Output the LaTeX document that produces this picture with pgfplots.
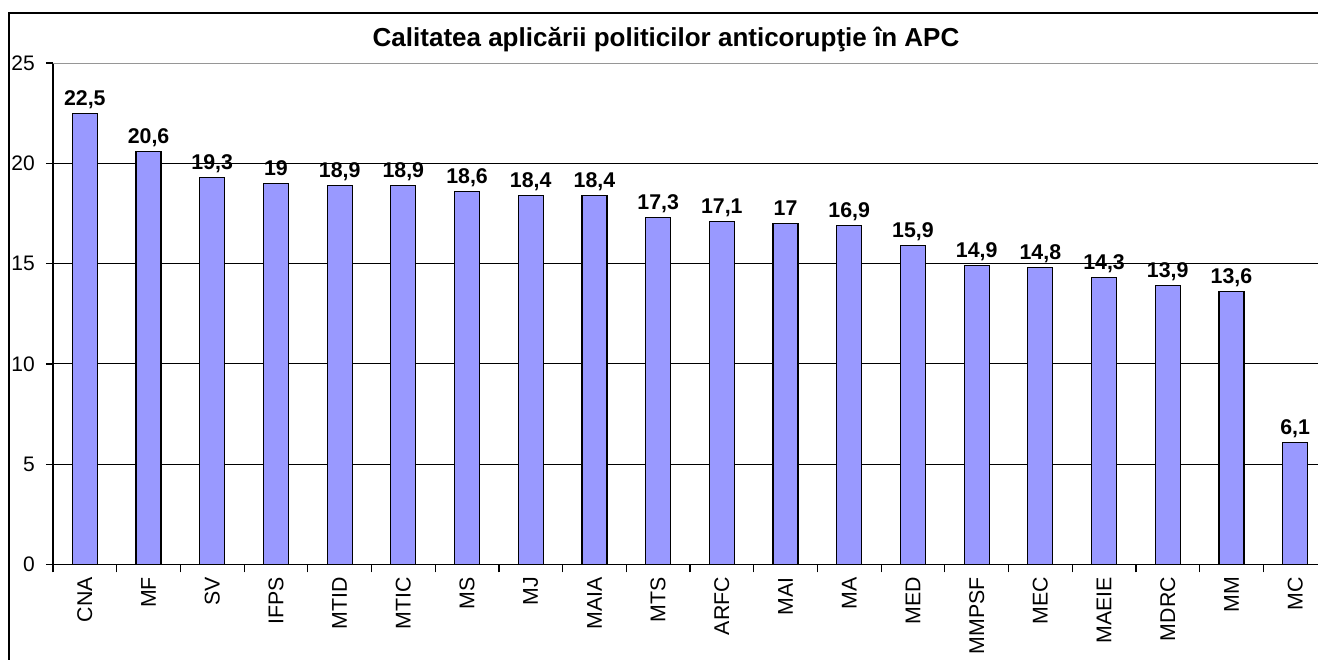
\documentclass[border=0pt]{standalone}
\usepackage{pgfplots}
\pgfplotsset{compat=1.18}
\usepackage{fontspec}
\setmainfont{Liberation Sans}
\definecolor{barblue}{RGB}{153,153,255}
\definecolor{gridgray}{RGB}{150,150,150}
\begin{document}
\begin{tikzpicture}[x=0.75pt,y=0.75pt]
\clip (-53,-95.5) rectangle (1265,564.5);
\draw[black, line width=1.5pt] (-44,551.5) rectangle (1300,-200);
\node[anchor=base, font=\bfseries\fontsize{19.5}{23}\selectfont, inner sep=0pt] at (613,517.5) {Calitatea aplicării politicilor anticorupţie în APC};
\begin{axis}[
  at={(0,0)}, anchor=south west,
  scale only axis,
  width=955.5pt, height=376.1pt,
  xmin=-0.5, xmax=19.5, ymin=0, ymax=25,
  ybar, bar width=18.75pt,
  axis x line=bottom, axis y line=left,
  axis line style={-, black, line width=1pt},
  /pgf/number format/assume math mode=true,
  ytick={0,5,...,25},
  ymajorgrids, major grid style={black, line width=0.75pt},
  tick align=outside,
  major tick length=5.25pt, minor tick length=6pt,
  tick style={black, line width=0.9pt},
  xtick={0,...,19},
  xticklabels={CNA,MF,SV,IFPS,MTID,MTIC,MS,MJ,MAIA,MTS,ARFC,MAI,MA,MED,MMPSF,MEC,MAEIE,MDRC,MM,MC},
  every major x tick/.append style={draw=none},
  minor xtick={-0.5,0.5,...,19.5},
  xticklabel style={rotate=90, anchor=east, font=\fontsize{16}{18}\selectfont, inner sep=0pt, xshift=-4pt},
  yticklabel style={font=\fontsize{15.75}{18}\selectfont, inner sep=0pt, xshift=-8.25pt},
  nodes near coords={\pgfmathprintnumber[use comma]{\pgfplotspointmeta}},
  nodes near coords style={font=\bfseries\fontsize{16}{19}\selectfont, anchor=base, inner sep=0pt, yshift=6pt},
]
\addplot[fill=barblue, draw=black, line width=0.9pt] coordinates {
(0,22.5) (1,20.6) (2,19.3) (3,19) (4,18.9) (5,18.9) (6,18.6) (7,18.4) (8,18.4) (9,17.3)
(10,17.1) (11,17) (12,16.9) (13,15.9) (14,14.9) (15,14.8) (16,14.3) (17,13.9) (18,13.6) (19,6.1)};
\draw[gridgray, line width=1.5pt] (axis cs:-0.5,25) -- (axis cs:19.5,25);
\end{axis}
\end{tikzpicture}
\end{document}
